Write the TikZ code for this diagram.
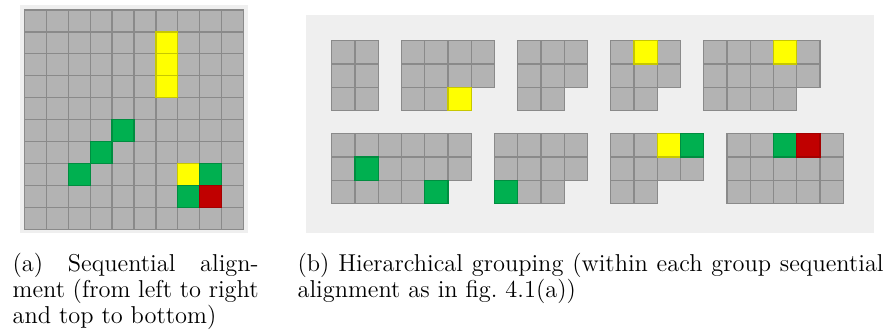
\documentclass[tikz,border=0pt]{standalone}
\usepackage{tikz}
\definecolor{cellgray}{RGB}{179,179,179}
\definecolor{cellline}{RGB}{138,138,138}
\definecolor{panelbg}{RGB}{239,239,239}
\definecolor{markyellow}{RGB}{255,255,0}
\definecolor{markgreen}{RGB}{0,176,80}
\definecolor{markred}{RGB}{192,0,0}
\begin{document}
\begin{tikzpicture}[x=0.5pt, y=-0.5pt, line width=0.6pt,
  cell/.style={fill=cellgray, draw=cellline},
  yel/.style={fill=markyellow, draw=markyellow!78!black},
  grn/.style={fill=markgreen, draw=markgreen!80!black},
  rd/.style={fill=markred, draw=markred!85!black},
  caption/.style={anchor=north west, inner sep=0pt, align=justify, font=\fontsize{12.2}{13}\selectfont}]
\useasboundingbox (0,0) rectangle (883,334);
% (a) one grid
\fill[panelbg] (20,5) rectangle (248,233);
\begin{scope}[shift={(24.3,10)}, x=10.97pt, y=-10.97pt]
\foreach \c in {0,...,9}{ \foreach \r in {0,...,9}{ \draw[cell] (\c,\r) rectangle ++(1,1); } }
\foreach \c/\r/\k in {6/1/yel,6/2/yel,6/3/yel,4/5/grn,3/6/grn,2/7/grn,7/7/yel,8/7/grn,7/8/grn,8/8/rd}{
  \draw[\k] (\c,\r) rectangle ++(1,1);
}
\end{scope}
% (b) groups
\fill[panelbg] (306,15) rectangle (874,232.7);
\begin{scope}[shift={(331.7,40.7)}, x=11.625pt, y=-11.625pt]
\foreach \gx/\gy/\wa/\wb in {0/0/2/2,3/0/4/3,8/0/3/2,12/0/3/2,16/0/5/4,0/4/6/5,7/4/4/3,12/4/4/2,17/4/5/5}{
  \foreach \r/\w in {0/\wa,1/\wa,2/\wb}{
    \foreach \c in {1,...,\w}{ \draw[cell] (\gx+\c-1,\gy+\r) rectangle ++(1,1); }
  }
}
\foreach \c/\r/\k in {5/2/yel,13/0/yel,19/0/yel,1/5/grn,4/6/grn,7/6/grn,14/4/yel,15/4/grn,19/4/grn,20/4/rd}{
  \draw[\k] (\c,\r) rectangle ++(1,1);
}
\end{scope}
\node[caption, text width=123pt] (capA) at (12,253) {(a) Sequential align\-ment (from left to right and top to bottom)};
\node[caption, text width=293pt] (capB) at (297,253) {(b) Hierarchical grouping (within each group sequential alignment as in fig.~4.1(a))};
\end{tikzpicture}
\end{document}
